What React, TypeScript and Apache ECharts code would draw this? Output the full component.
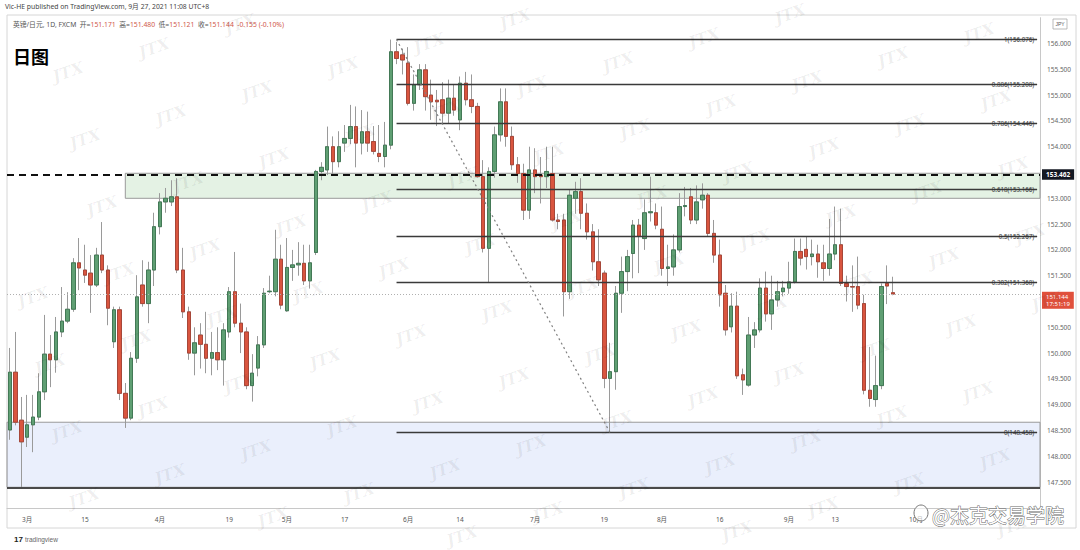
import React, { useEffect, useRef } from 'react';
import * as echarts from 'echarts';

// ---------- data ----------
const firstTradingDay = '2021-02-24';
const axisDayCount = 179; // trading days incl. future space on the right

const opens = [
  148.51,149.63,148.70,148.37,148.61,148.76,149.25,149.98,149.87,150.41,
  150.62,150.85,151.75,151.61,151.55,151.32,151.90,151.61,150.22,150.84,
  149.22,148.74,149.90,151.32,150.96,151.61,152.45,152.93,152.93,153.03,
  151.61,150.80,150.00,150.35,150.17,149.90,150.01,149.87,150.41,151.19,
  150.58,150.41,149.37,149.71,150.16,151.19,151.19,151.82,150.82,151.66,
  151.71,151.74,151.40,151.95,153.52,153.55,154.00,153.71,154.07,154.16,
  154.39,154.07,154.29,154.10,153.87,153.81,154.03,155.84,155.78,155.62,
  154.84,155.20,155.49,155.00,154.90,154.91,154.65,154.94,154.52,155.23,
  154.91,154.78,153.42,152.03,153.52,154.23,154.87,154.20,153.65,153.48,
  152.77,153.55,153.45,153.42,153.48,152.58,152.58,151.19,153.00,153.13,
  152.71,152.35,151.77,151.55,149.51,149.64,151.16,151.58,151.93,152.48,
  152.22,152.72,152.72,152.40,151.64,151.67,152.00,152.84,153.03,152.58,
  152.97,153.06,152.32,151.90,151.16,150.51,150.91,149.58,149.38,150.35,
  150.45,151.26,150.76,151.03,151.19,151.26,151.38,151.97,152.01,151.87,
  151.92,151.75,151.64,151.92,152.10,151.35,151.29,151.29,150.96,149.28,
  149.10,149.37,151.35,151.171
];
const highs = [
  150.10,150.41,149.15,149.19,149.19,149.61,150.74,150.35,150.70,151.28,
  151.18,151.84,152.23,152.10,151.90,152.04,152.54,151.70,150.90,150.90,
  149.42,150.02,151.51,151.80,151.77,152.72,153.10,153.20,153.35,153.39,
  152.04,150.90,150.50,150.58,150.80,150.41,150.50,150.58,151.28,151.96,
  150.96,150.50,149.98,150.33,151.26,151.50,152.39,152.10,152.23,152.00,
  152.15,152.10,152.10,153.55,153.70,154.39,154.20,154.30,154.42,154.81,
  154.78,154.71,154.68,154.40,154.42,154.48,156.076,156.03,155.90,155.93,
  155.40,155.60,155.60,155.30,155.10,155.25,155.30,155.20,155.36,155.45,
  155.40,154.85,153.74,153.60,154.39,155.13,155.13,154.39,153.80,153.67,
  154.00,153.97,153.80,154.00,154.00,152.70,152.70,153.16,153.32,153.39,
  152.90,152.50,152.40,151.60,150.20,151.30,151.87,152.00,152.58,152.60,
  152.98,153.42,152.90,152.84,152.10,152.30,153.10,153.22,153.20,153.25,
  153.29,153.10,152.58,152.20,151.32,151.16,151.19,149.70,150.70,150.60,
  151.45,151.58,151.50,151.40,151.40,151.77,152.22,152.22,152.26,152.20,
  152.10,152.10,152.60,152.84,152.80,151.50,151.70,151.87,151.13,150.12,
  149.95,151.35,151.70,151.480
];
const lows = [
  148.32,148.60,147.40,148.18,148.08,148.70,149.09,149.34,149.62,150.31,
  150.58,150.80,151.22,151.36,150.78,151.28,151.55,150.54,150.10,149.09,
  148.55,148.70,149.81,150.90,150.58,151.30,152.30,152.72,152.85,151.55,
  150.68,149.87,149.57,149.70,149.61,149.57,149.67,149.37,150.30,150.50,
  150.00,149.30,149.06,149.55,150.10,151.16,151.10,150.85,150.80,151.40,
  151.50,151.32,151.25,151.90,153.35,153.45,153.45,153.60,153.90,154.05,
  153.60,153.85,153.90,153.85,153.70,153.60,153.95,155.60,155.40,154.80,
  154.70,155.10,154.70,154.52,154.40,154.45,154.45,154.60,154.32,154.80,
  154.65,153.40,151.95,151.36,153.40,154.10,154.00,153.55,153.30,152.58,
  152.60,153.10,152.90,153.20,152.55,152.40,150.71,151.05,152.70,152.40,
  152.20,151.60,151.30,149.32,148.458,149.29,150.78,151.20,151.45,151.55,
  152.00,152.55,152.40,151.50,151.30,151.50,151.95,152.65,152.50,152.50,
  152.80,152.25,151.75,150.90,150.34,150.40,149.50,149.19,149.35,150.10,
  150.40,150.61,150.45,150.90,151.10,151.15,151.35,151.70,151.62,151.70,
  151.46,151.40,151.50,151.80,151.30,151.00,150.80,150.85,149.20,148.96,
  148.96,149.30,150.95,151.121
];
const closes = [
  149.63,148.66,148.28,148.61,148.76,149.25,149.98,149.87,150.41,150.62,
  150.85,151.75,151.65,151.51,151.32,151.90,151.61,150.87,150.84,149.22,
  148.74,149.90,151.09,150.96,151.61,152.45,152.93,153.00,153.03,151.61,
  150.80,150.00,150.20,150.17,149.90,150.01,149.87,150.45,151.19,150.58,
  150.41,149.37,149.61,150.16,151.16,151.20,151.82,150.93,151.66,151.71,
  151.74,151.40,151.75,153.52,153.60,154.00,153.71,154.00,154.16,154.39,
  154.07,154.29,154.07,153.91,153.81,154.03,155.84,155.71,155.68,154.84,
  155.20,155.49,154.97,154.87,154.87,154.65,154.94,154.71,155.23,154.91,
  154.78,153.42,152.03,153.52,154.23,154.87,154.20,153.65,153.48,152.77,
  153.55,153.42,153.42,153.52,152.58,152.55,151.19,153.06,153.13,152.71,
  152.35,151.77,151.42,149.51,149.64,151.16,151.58,151.87,152.48,152.26,
  152.72,152.74,152.48,151.64,151.67,152.00,152.84,152.86,152.58,152.93,
  153.06,152.32,151.90,151.13,150.45,150.91,149.56,149.48,150.35,150.45,
  151.26,150.76,151.03,151.19,151.26,151.38,151.97,151.84,151.87,151.92,
  151.77,151.64,151.92,152.10,151.35,151.29,151.28,150.93,149.28,149.12,
  149.37,151.29,151.30,151.144
];

const tickDates = ['2021-03-01','2021-03-15','2021-04-01','2021-04-19','2021-05-03','2021-05-17','2021-06-01','2021-06-14','2021-07-01','2021-07-19','2021-08-02','2021-08-16','2021-09-01','2021-09-13','2021-10-01'];
const tickTexts = ['3月','15','4月','19','5月','17','6月','14','7月','19','8月','16','9月','13','10月'];
// price-axis labels that sit under the price tags in the reference
const coveredAxisLabels = [153.5, 151.0];

const fibHigh = 156.076;
const fibLow = 148.458;
const fibHighDate = '2021-05-28';
const fibLowDate = '2021-07-20';
const fibRatios = [1, 0.886, 0.786, 0.618, 0.5, 0.382, 0];

const keyLevel = 153.462;
const currentPrice = 151.144;
const countdown = '17:51:19';
const greenZone = [153.485, 153.0];
const greenZoneStart = '2021-03-24';
const blueZone = [148.66, 147.40];

const headerLine = 'Vic-HE published on TradingView.com, 9月 27, 2021 11:08 UTC+8';
const symbolText = '英镑/日元, 1D, FXCM';
const ohlcLabels = ['开', '高', '低', '收'];
const ohlcValues = ['151.171', '151.480', '151.121', '151.144'];
const changeText = '-0.155 (-0.10%)';

// ---------- helpers ----------
function buildDates(start: string, count: number): string[] {
  const out: string[] = [];
  const d = new Date(start + 'T00:00:00Z');
  while (out.length < count) {
    const wd = d.getUTCDay();
    if (wd !== 0 && wd !== 6) out.push(d.toISOString().slice(0, 10));
    d.setUTCDate(d.getUTCDate() + 1);
  }
  return out;
}

const FONT = '"Noto Sans", "Noto Sans CJK SC", sans-serif';

export default function App() {
  const ref = useRef<HTMLDivElement>(null);

  useEffect(() => {
    document.body.style.margin = '0';
    const chart = echarts.init(ref.current!, undefined, { renderer: 'svg' });
    const dates = buildDates(firstTradingDay, axisDayCount);
    const tickMap: Record<string, string> = {};
    tickDates.forEach((d, i) => (tickMap[d] = tickTexts[i]));
    const lastDate = dates[dates.length - 1];

    const wickData = opens.map((o, i) => [o, closes[i], lows[i], highs[i]]);
    const bodyData = opens.map((o, i) => [o, closes[i], Math.min(o, closes[i]), Math.max(o, closes[i])]);

    const fibLines = fibRatios.map((r) => {
      const v = fibLow + r * (fibHigh - fibLow);
      return [
        {
          xAxis: fibHighDate,
          yAxis: v,
          lineStyle: { color: '#3a3a3a', width: 1.3, type: 'solid' },
          label: {
            show: true,
            position: 'insideEnd',
            formatter: `${r}(${v.toFixed(3)})`,
            fontSize: 6.2,
            color: '#333',
            distance: 3,
          },
        },
        { xAxis: lastDate, yAxis: v },
      ];
    });

    // JTX watermark lattice (decoration)
    const marks: any[] = [];
    for (let m = -10; m <= 16; m++) {
      for (let n = -8; n <= 8; n++) {
        const x = 33 + 86 * m + 17 * n;
        const y = 297 - 24 * m + 67 * n;
        if (x > 18 && x < 1062 && y > 10 && y < 540) {
          marks.push({
            type: 'text', x, y, rotation: 0.33, silent: true, z: 100,
            style: {
              text: 'JTX', fill: 'rgba(0,0,0,0.065)', fontSize: 16, fontStyle: 'italic',
              fontWeight: 'bold', fontFamily: 'DejaVu Serif', align: 'center', verticalAlign: 'middle',
            },
          });
        }
      }
    }

    const ohlcRich: any = {
      g: { fill: '#555', fontSize: 6.8, fontFamily: FONT },
      r: { fill: '#d0584a', fontSize: 6.8, fontFamily: FONT },
    };
    let ohlcStr = `{g|${symbolText}  }`;
    ohlcLabels.forEach((l, i) => { ohlcStr += `{g|${l}=}{r|${ohlcValues[i]}}{g|  }`; });
    ohlcStr += `{r|${changeText}}`;

    const option: any = {
      animation: false,
      backgroundColor: '#ffffff',
      textStyle: { fontFamily: FONT },
      grid: { left: 7, right: 40, top: 17.7, bottom: 42.1 },
      xAxis: {
        type: 'category',
        data: dates,
        boundaryGap: true,
        axisLine: { show: true, lineStyle: { color: '#c8c8c8' } },
        axisTick: { show: false },
        splitLine: { show: false },
        axisLabel: {
          interval: (_i: number, v: string) => tickMap[v] !== undefined,
          formatter: (v: string) => tickMap[v] || '',
          fontSize: 6.5,
          color: '#555',
          margin: 8,
        },
      },
      yAxis: {
        type: 'value',
        position: 'right',
        min: 147,
        max: 156.5,
        interval: 0.5,
        splitLine: { show: false },
        axisTick: { show: false },
        axisLine: { show: true, lineStyle: { color: '#c8c8c8' } },
        axisLabel: {
          formatter: (v: number) => (coveredAxisLabels.some((c) => Math.abs(c - v) < 1e-6) ? '' : v.toFixed(3)),
          fontSize: 6.5,
          color: '#666',
          margin: 7,
          showMinLabel: false,
          showMaxLabel: false,
        },
      },
      series: [
        {
          name: 'zones',
          type: 'line',
          data: [],
          z: 1,
          silent: true,
          markArea: {
            silent: true,
            data: [
              [
                { xAxis: greenZoneStart, yAxis: greenZone[0], itemStyle: { color: 'rgba(120,190,120,0.2)', borderColor: '#9a9a9a', borderWidth: 1 } },
                { yAxis: greenZone[1] },
              ],
              [
                { yAxis: blueZone[0], itemStyle: { color: 'rgba(130,160,240,0.17)', borderColor: '#9a9a9a', borderWidth: 1 } },
                { yAxis: blueZone[1] },
              ],
            ],
          },
        },
        {
          name: 'wicks',
          type: 'candlestick',
          data: wickData,
          z: 2,
          barWidth: '68%',
          silent: true,
          itemStyle: {
            color: 'rgba(0,0,0,0)', color0: 'rgba(0,0,0,0)',
            borderColor: '#9a9a9a', borderColor0: '#9a9a9a', borderWidth: 1,
          },
        },
        {
          name: 'bodies',
          type: 'candlestick',
          data: bodyData,
          z: 3,
          barWidth: '68%',
          silent: true,
          itemStyle: {
            color: '#5f9f73', color0: '#d9553f',
            borderColor: '#35704a', borderColor0: '#a23b2c', borderWidth: 0.8,
          },
        },
        {
          name: 'lines',
          type: 'line',
          data: [],
          z: 5,
          silent: true,
          markLine: {
            silent: true,
            symbol: ['none', 'none'],
            animation: false,
            data: [
              ...fibLines,
              [
                { xAxis: fibHighDate, yAxis: fibHigh, lineStyle: { color: '#808080', width: 1.2, type: [2, 3] }, label: { show: false } },
                { xAxis: fibLowDate, yAxis: fibLow },
              ],
              {
                yAxis: blueZone[1],
                lineStyle: { color: '#4a4a4a', width: 2, type: 'solid' },
                label: { show: false },
              },
              {
                yAxis: currentPrice,
                lineStyle: { color: '#b0b0b0', width: 1, type: [1, 2] },
                label: {
                  show: true, position: 'end', formatter: `${currentPrice.toFixed(3)}\n${countdown}`,
                  backgroundColor: '#e0503c', color: '#fff', fontSize: 6, lineHeight: 7.5,
                  padding: [1, 4, 1, 4], distance: 2, offset: [0, 6],
                },
              },
              {
                yAxis: keyLevel,
                lineStyle: { color: '#111', width: 2, type: [7, 5] },
                label: {
                  show: true, position: 'end', formatter: keyLevel.toFixed(3),
                  backgroundColor: '#131722', color: '#fff', fontSize: 6.5, fontWeight: 'bold',
                  padding: [2, 4, 2, 4], distance: 2,
                },
              },
            ],
          },
        },
      ],
      graphic: [
        { type: 'rect', silent: true, z: 0, shape: { x: 7, y: 15, width: 1069, height: 513 }, style: { fill: 'none', stroke: '#d6d6d6', lineWidth: 1 } },
        { type: 'text', silent: true, x: 5, y: 3, style: { text: headerLine, fontSize: 6.8, fill: '#444', fontFamily: FONT } },
        { type: 'text', silent: true, x: 13, y: 21, style: { text: ohlcStr, rich: ohlcRich, fontFamily: FONT } },
        { type: 'text', silent: true, x: 13, y: 47, z: 50, style: { text: '日图', fontSize: 18, fontWeight: 'bold', fill: '#000', fontFamily: '"Noto Sans CJK SC", sans-serif' } },
        { type: 'rect', silent: true, shape: { x: 1053, y: 19, width: 14, height: 10 }, style: { fill: '#fff', stroke: '#aaa', lineWidth: 0.8 } },
        { type: 'text', silent: true, x: 1060, y: 24, style: { text: 'JPY', fontSize: 5, fill: '#555', align: 'center', verticalAlign: 'middle' } },
        { type: 'text', silent: true, x: 14, y: 535, style: { text: '17', fontSize: 8, fontWeight: 'bold', fill: '#222' } },
        { type: 'text', silent: true, x: 25, y: 536, style: { text: 'tradingview', fontSize: 6.5, fill: '#666' } },
        ...marks,
        { type: 'ellipse', silent: true, z: 120, shape: { cx: 921, cy: 513, rx: 7, ry: 8 }, style: { fill: 'rgba(255,255,255,0.6)', stroke: '#777', lineWidth: 1 } },
        { type: 'text', silent: true, z: 121, x: 932, y: 514, style: { text: '@杰克交易学院', fontSize: 19, fill: '#fff', stroke: '#6a6a6a', lineWidth: 1, verticalAlign: 'middle', fontFamily: '"Noto Sans CJK SC", sans-serif' } },
      ],
    };

    chart.setOption(option);
    return () => chart.dispose();
  }, []);

  return <div ref={ref} style={{ position: 'fixed', left: 0, top: 0, width: 1080, height: 550 }} />;
}
